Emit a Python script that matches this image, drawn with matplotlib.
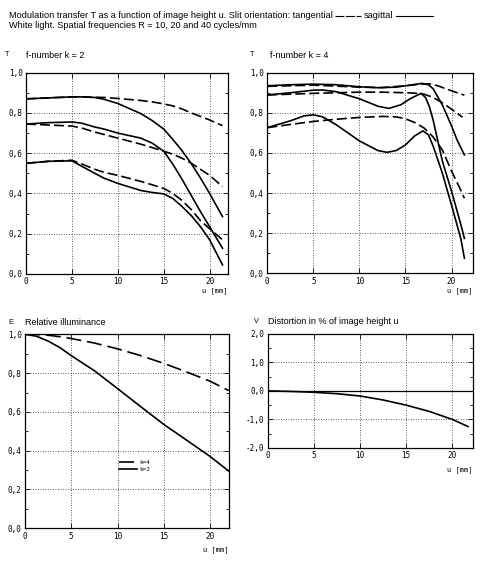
import matplotlib
matplotlib.use('Agg')
import matplotlib.pyplot as plt
from matplotlib.ticker import MultipleLocator, FuncFormatter
from matplotlib.lines import Line2D

# ---------------- data ----------------
# Panel 1: f-number k = 2, modulation transfer T vs image height u [mm]
u_k2 = [0, 2.5, 5, 6, 7.5, 8.5, 10, 12.5, 13.75, 15, 16, 17, 18, 19, 20, 21.4]
k2_R10_sag = [0.87, 0.875, 0.88, 0.88, 0.877, 0.868, 0.847, 0.797, 0.762, 0.72, 0.668, 0.612, 0.548, 0.477, 0.40, 0.285]
k2_R10_tan = [0.87, 0.875, 0.88, 0.88, 0.878, 0.877, 0.872, 0.862, 0.855, 0.845, 0.835, 0.82, 0.80, 0.783, 0.765, 0.737]
k2_R20_sag = [0.745, 0.752, 0.755, 0.75, 0.73, 0.72, 0.70, 0.675, 0.65, 0.61, 0.545, 0.47, 0.39, 0.31, 0.235, 0.128]
k2_R20_tan = [0.745, 0.74, 0.735, 0.726, 0.705, 0.693, 0.675, 0.645, 0.628, 0.61, 0.595, 0.575, 0.55, 0.52, 0.49, 0.434]
k2_R40_sag = [0.55, 0.56, 0.562, 0.537, 0.50, 0.476, 0.45, 0.415, 0.405, 0.398, 0.375, 0.335, 0.29, 0.235, 0.17, 0.045]
k2_R40_tan = [0.55, 0.56, 0.565, 0.548, 0.52, 0.505, 0.49, 0.46, 0.443, 0.425, 0.40, 0.365, 0.32, 0.265, 0.225, 0.17]

# Panel 2: f-number k = 4
u_k4_R10_sag = [0, 2.5, 5, 7.5, 10, 12, 14, 15.5, 16.8, 17.5, 18, 19, 20, 20.6, 21.4]
k4_R10_sag = [0.935, 0.94, 0.943, 0.94, 0.93, 0.925, 0.928, 0.938, 0.947, 0.94, 0.92, 0.84, 0.735, 0.665, 0.59]
u_k4_R10_tan = [0, 5, 10, 12.5, 15, 16.5, 17.6, 18.5, 19.5, 20.5, 21.4]
k4_R10_tan = [0.932, 0.938, 0.928, 0.926, 0.935, 0.942, 0.945, 0.935, 0.918, 0.902, 0.888]
u_k4_R20_sag = [0, 2.5, 5, 6, 7.5, 10, 12, 13.2, 14.5, 15.5, 16.7, 17.2, 17.6, 18, 19, 20, 21, 21.4]
k4_R20_sag = [0.889, 0.90, 0.913, 0.914, 0.905, 0.87, 0.833, 0.822, 0.84, 0.87, 0.897, 0.875, 0.83, 0.765, 0.56, 0.41, 0.245, 0.174]
u_k4_R20_tan = [0, 2.5, 5, 7.5, 10, 12.5, 15, 16, 17, 18, 19, 20, 21.2]
k4_R20_tan = [0.889, 0.893, 0.897, 0.90, 0.903, 0.903, 0.90, 0.898, 0.893, 0.877, 0.85, 0.818, 0.778]
u_k4_R40_sag = [0, 2.5, 4, 5, 6, 7.5, 10, 12, 13, 14, 15, 16, 16.9, 17.5, 18, 19, 20, 21, 21.4]
k4_R40_sag = [0.726, 0.76, 0.785, 0.79, 0.78, 0.74, 0.66, 0.612, 0.603, 0.612, 0.64, 0.685, 0.71, 0.69, 0.635, 0.50, 0.34, 0.175, 0.075]
u_k4_R40_tan = [0, 2.5, 5, 7.5, 10, 12.5, 14, 15, 16, 17, 18, 19, 20, 21, 21.4]
k4_R40_tan = [0.726, 0.742, 0.757, 0.768, 0.777, 0.782, 0.78, 0.77, 0.752, 0.725, 0.68, 0.615, 0.51, 0.415, 0.374]

# Panel 3: relative illuminance E
u_E = [0, 1.25, 2.5, 3.75, 5, 7.5, 10, 12.5, 15, 17.5, 20, 22]
E_k4 = [1.0, 0.999, 0.995, 0.988, 0.978, 0.955, 0.925, 0.89, 0.85, 0.805, 0.758, 0.71]
E_k2 = [1.0, 0.99, 0.965, 0.932, 0.89, 0.812, 0.72, 0.627, 0.535, 0.453, 0.37, 0.295]

# Panel 4: distortion V in %
u_V = [0, 2.5, 5, 7.5, 10, 12.5, 15, 17.5, 20, 21.7]
V = [0.0, -0.02, -0.05, -0.1, -0.18, -0.32, -0.5, -0.72, -1.0, -1.25]

header1 = "Modulation transfer T as a function of image height u. Slit orientation: tangential"
header_sag = "sagittal"
header2 = "White light. Spatial frequencies R = 10, 20 and 40 cycles/mm"

# ---------------- figure ----------------
W, H, DPI = 493, 567, 100
plt.rcParams['font.family'] = ['DejaVu Sans Mono']
TXT = 'Liberation Sans'
fig = plt.figure(figsize=(W / DPI, H / DPI), dpi=DPI)
fig.patch.set_facecolor('white')


def box(l, r, t, b):
    return [l / W, 1 - b / H, (r - l) / W, (b - t) / H]


def fx(x):
    return x / W


def fy(y):
    return 1 - y / H


fmt_y = FuncFormatter(lambda v, p: ("%.1f" % v).replace('.', ',').replace('-0,0', '0,0'))
fmt_x = FuncFormatter(lambda v, p: "%d" % round(v))

LW = 1.2
DASH = (6, 2.4)


def style(ax, ylim, ymaj, ymin, xmax):
    ax.set_xlim(0, xmax)
    ax.set_ylim(*ylim)
    ax.xaxis.set_major_locator(MultipleLocator(5))
    ax.yaxis.set_major_locator(MultipleLocator(ymaj))
    ax.yaxis.set_minor_locator(MultipleLocator(ymin))
    ax.xaxis.set_major_formatter(fmt_x)
    ax.yaxis.set_major_formatter(fmt_y)
    ax.tick_params(which='both', direction='in', top=True, right=True,
                   width=0.6, labelsize=5.5, colors='black', pad=2.5)
    ax.tick_params(which='major', length=3.5)
    ax.tick_params(which='minor', length=2.5)
    ax.grid(True, which='major', linestyle=(0, (1, 2)), linewidth=0.6, color='#222222')
    for s in ax.spines.values():
        s.set_linewidth(0.9)
        s.set_color('black')


def curve(ax, u, t, dashed):
    if dashed:
        ax.plot(u, t, color='black', lw=LW, dashes=DASH, solid_capstyle='butt')
    else:
        ax.plot(u, t, color='black', lw=LW)


# Panel 1
ax1 = fig.add_axes(box(26, 228, 72.7, 274))
style(ax1, (0, 1), 0.2, 0.1, 22)
for s, d in [(k2_R10_sag, False), (k2_R10_tan, True), (k2_R20_sag, False),
             (k2_R20_tan, True), (k2_R40_sag, False), (k2_R40_tan, True)]:
    curve(ax1, u_k2, s, d)

# Panel 2
ax2 = fig.add_axes(box(267.3, 472.7, 72.7, 273.3))
style(ax2, (0, 1), 0.2, 0.1, 22.3)
for uu, s, d in [(u_k4_R10_sag, k4_R10_sag, False), (u_k4_R10_tan, k4_R10_tan, True),
                 (u_k4_R20_sag, k4_R20_sag, False), (u_k4_R20_tan, k4_R20_tan, True),
                 (u_k4_R40_sag, k4_R40_sag, False), (u_k4_R40_tan, k4_R40_tan, True)]:
    curve(ax2, uu, s, d)

# Panel 3
ax3 = fig.add_axes(box(25, 228.7, 334.3, 528.3))
style(ax3, (0, 1), 0.2, 0.1, 22)
ax3.plot(u_E, E_k4, color='black', lw=LW, dashes=(9, 3.5), label='k=4')
ax3.plot(u_E, E_k2, color='black', lw=LW, label='k=2')
ax3.legend(loc='upper left', bbox_to_anchor=(0.46, 0.355), frameon=False,
           fontsize=4.3, handlelength=3.0, handletextpad=0.4, labelspacing=0.35,
           borderpad=0, borderaxespad=0)

# Panel 4
ax4 = fig.add_axes(box(267.7, 472.7, 333.7, 448))
style(ax4, (-2, 2), 1.0, 0.5, 22.2)
ax4.axhline(0, color='black', lw=0.9)
ax4.plot(u_V, V, color='black', lw=LW)

# axis labels "u [mm]"
for xr, yy in [(228, 291), (472.7, 291), (228.7, 550), (472.7, 470)]:
    fig.text(fx(xr), fy(yy), "u [mm]", ha='right', va='center', fontsize=5.0)

# panel titles
titles = [(5, 26, 55, "T", "f-number k = 2"),
          (250, 270, 55, "T", "f-number k = 4"),
          (8, 25, 322.7, "E", "Relative illuminance"),
          (254, 268, 321.7, "V", "Distortion in % of image height u")]
for xs, xt, yy, sym, t in titles:
    fig.text(fx(xs), fy(yy), sym, ha='left', va='center', fontsize=5.2, family=TXT)
    fig.text(fx(xt), fy(yy), t, ha='left', va='center', fontsize=6.5, family=TXT)

# header
h1 = fig.text(fx(9), fy(15), header1, ha='left', va='center', fontsize=6.6, family=TXT)
fig.text(fx(9), fy(25), header2, ha='left', va='center', fontsize=6.6, family=TXT)
fig.canvas.draw()
r = fig.canvas.get_renderer()
ext = h1.get_window_extent(r)
x0 = ext.x1 + 2
fig.add_artist(Line2D([x0 / W, (x0 + 26) / W], [fy(15.5)] * 2, color='black', lw=0.8,
                      dashes=(8, 1.5), transform=fig.transFigure))
t2 = fig.text((x0 + 29) / W, fy(15), header_sag, ha='left', va='center', fontsize=6.6, family=TXT)
fig.canvas.draw()
ext2 = t2.get_window_extent(r)
fig.add_artist(Line2D([(ext2.x1 + 3) / W, (ext2.x1 + 40) / W], [fy(15.5)] * 2, color='black',
                      lw=0.8, transform=fig.transFigure))

fig.savefig('out.png', dpi=DPI, facecolor='white')
